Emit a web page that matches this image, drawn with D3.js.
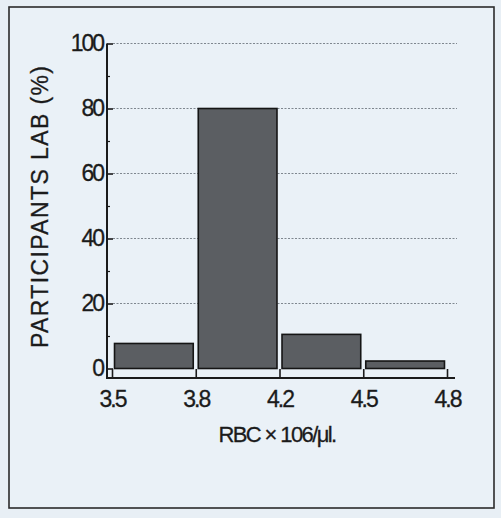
<!DOCTYPE html>
<html>
<head>
<meta charset="utf-8">
<script src="https://cdn.jsdelivr.net/npm/d3@7"></script>
<style>
  html, body { margin: 0; padding: 0; background: #e8eff5; }
  svg { display: block; }
  text { font-family: "Liberation Sans", Arial, sans-serif; fill: #1b1b1b; }
</style>
</head>
<body>
<svg id="chart" width="501" height="518"></svg>
<script>
// ---- data ----
const binEdges = ["3.5", "3.8", "4.2", "4.5", "4.8"];
const bins = ["3.5–3.8", "3.8–4.2", "4.2–4.5", "4.5–4.8"];
const percents = [7.7, 80, 10.5, 2.3];
const yMajorTicks = [0, 20, 40, 60, 80, 100];
const yMinorTicks = [10, 30, 50, 70, 90];
const gridValues = [20, 40, 60, 80, 100];
const yTitle = "PARTICIPANTS LAB  (%)";
const xTitle = "RBC \u00d7 106/\u03bcl.";

// ---- layout ----
const svg = d3.select("#chart");
const axisX = 107;      // y-axis position
const axisY = 378;      // x-axis position
const plotRight = 455;
const gridRight = 457;

svg.append("rect")
  .attr("x", 0).attr("y", 0).attr("width", 501).attr("height", 518)
  .attr("fill", "#e8eff5");

svg.append("rect")
  .attr("x", 9).attr("y", 7).attr("width", 485).attr("height", 501)
  .attr("fill", "#eaf1f7").attr("stroke", "#2b2b2b").attr("stroke-width", 1.6);

const y = d3.scaleLinear().domain([0, 100]).range([368.5, 43.5]);
const xEdge = d3.scalePoint().domain(binEdges).range([112, 447]);
const xBand = d3.scaleBand().domain(bins).range([112, 447])
  .paddingInner(0.06).paddingOuter(0.03);

// grid
svg.append("g").selectAll("line").data(gridValues).join("line")
  .attr("x1", axisX + 6).attr("x2", gridRight)
  .attr("y1", d => y(d)).attr("y2", d => y(d))
  .attr("stroke", "#7f878f").attr("stroke-width", 1)
  .attr("stroke-dasharray", "2,1.5");

// bars
svg.append("g").selectAll("rect").data(percents).join("rect")
  .attr("x", (d, i) => xBand(bins[i]))
  .attr("width", xBand.bandwidth())
  .attr("y", d => y(d))
  .attr("height", d => y(0) - y(d))
  .attr("fill", "#5b5e62")
  .attr("stroke", "#151515")
  .attr("stroke-width", 1.6);

// y axis (major)
const yAxisG = svg.append("g").attr("transform", `translate(${axisX},0)`)
  .call(d3.axisLeft(y).tickValues(yMajorTicks).tickSizeInner(-6).tickSizeOuter(0).tickPadding(4));
yAxisG.select(".domain").remove();
yAxisG.selectAll(".tick line").attr("stroke", "#1b1b1b").attr("stroke-width", 1.6);
yAxisG.selectAll(".tick text")
  .style("font-size", "23px").style("letter-spacing", "-2px")
  .attr("fill", "#1b1b1b").attr("stroke", "#1b1b1b").attr("stroke-width", 0.3);

// y axis minor ticks
const yMinorG = svg.append("g").attr("transform", `translate(${axisX},0)`)
  .call(d3.axisLeft(y).tickValues(yMinorTicks).tickSizeInner(-3).tickSizeOuter(0).tickFormat(""));
yMinorG.select(".domain").remove();
yMinorG.selectAll(".tick line").attr("stroke", "#1b1b1b").attr("stroke-width", 1.2);

// y axis line
svg.append("line")
  .attr("x1", axisX).attr("x2", axisX)
  .attr("y1", y(100)).attr("y2", axisY)
  .attr("stroke", "#1b1b1b").attr("stroke-width", 2);

// x axis
const xAxisG = svg.append("g").attr("transform", `translate(0,${axisY})`)
  .call(d3.axisBottom(xEdge).tickSizeInner(-9).tickSizeOuter(0).tickPadding(13));
xAxisG.select(".domain").remove();
xAxisG.selectAll(".tick line").attr("stroke", "#1b1b1b").attr("stroke-width", 1.6);
xAxisG.selectAll(".tick text")
  .style("font-size", "23px").style("letter-spacing", "-2px")
  .attr("fill", "#1b1b1b").attr("stroke", "#1b1b1b").attr("stroke-width", 0.3);

svg.append("line")
  .attr("x1", axisX - 1).attr("x2", plotRight)
  .attr("y1", axisY).attr("y2", axisY)
  .attr("stroke", "#1b1b1b").attr("stroke-width", 2);

// titles
svg.append("text")
  .attr("transform", "translate(48,207) rotate(-90)")
  .attr("text-anchor", "middle")
  .attr("textLength", 282).attr("lengthAdjust", "spacing")
  .attr("stroke", "#1b1b1b").attr("stroke-width", 0.3)
  .style("font-size", "23px")
  .text(yTitle);

svg.append("text")
  .attr("x", 277).attr("y", 442)
  .attr("text-anchor", "middle")
  .attr("stroke", "#1b1b1b").attr("stroke-width", 0.3)
  .style("font-size", "22px").style("letter-spacing", "-1.6px")
  .text(xTitle);
</script>
</body>
</html>
